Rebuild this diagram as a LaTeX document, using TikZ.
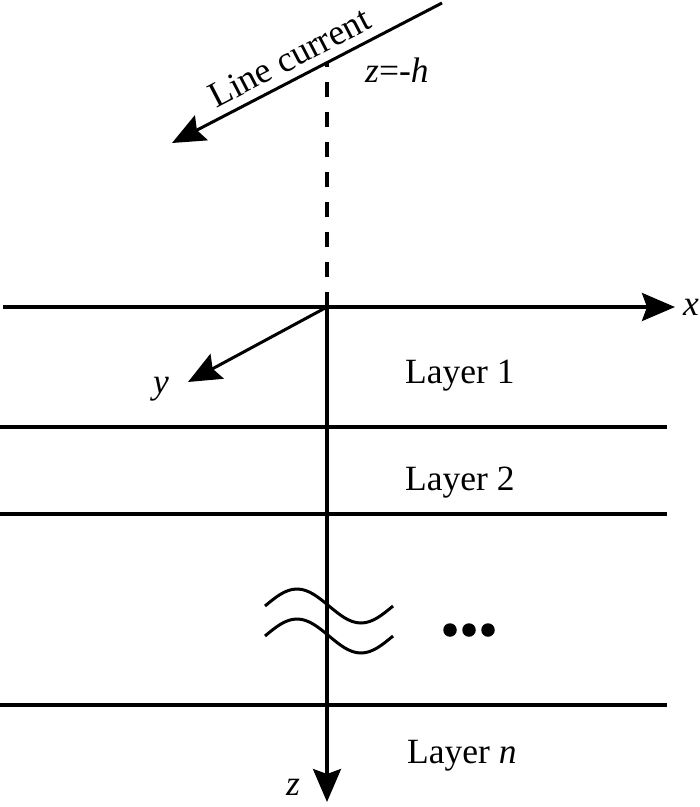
\documentclass[tikz,border=0pt]{standalone}
\usepackage{fontspec}
\setmainfont{Liberation Serif}
\usetikzlibrary{arrows.meta}
\tikzset{
  axisline/.style={line width=3.2pt},
  bigtip/.style={-{Stealth[length=33pt,width=28pt,inset=5pt]}},
  lbl/.style={inner sep=0pt, anchor=base west, font=\fontsize{35.5}{42}\selectfont},
  wave/.style={line width=3pt},
  dot/.style={circle, fill=black, inner sep=0pt, minimum size=13.5pt}
}
\begin{document}
\begin{tikzpicture}[x=1pt,y=-1pt]
\useasboundingbox (0,0) rectangle (700,807);
% coordinates
\coordinate (O) at (327,307);
\coordinate (xs) at (3,307);
\coordinate (xe) at (675,307);
\coordinate (ze) at (327,802);
\coordinate (ye) at (188,382);
\coordinate (lc1) at (442,3);
\coordinate (lc2) at (172,143);
\coordinate (lcp) at (327,62.6);
\coordinate (l1a) at (0,427);  \coordinate (l1b) at (667,427);
\coordinate (l2a) at (0,514);  \coordinate (l2b) at (667,514);
\coordinate (l3a) at (0,705);  \coordinate (l3b) at (667,705);
% layer lines
\draw[axisline] (l1a) -- (l1b);
\draw[axisline] (l2a) -- (l2b);
\draw[axisline] (l3a) -- (l3b);
% axes
\draw[axisline, bigtip] (xs) -- (xe);
\draw[axisline, bigtip] (O) -- (ze);
\draw[line width=3pt, bigtip] (O) -- (ye);
% dashed projection
\draw[line width=3.4pt, dash pattern=on 15pt off 15pt] (O) -- (lcp);
% line current
\draw[line width=3pt, bigtip] (lc1) -- (lc2);
\node[inner sep=0pt, anchor=base, rotate=27.4, font=\fontsize{36}{42}\selectfont] (lct) at (295,68) {Line current};
\node[lbl] (zh) at (365,82) {\textit{z}=-\textit{h}};
% axis labels
\node[lbl] (xl) at (683,315) {\textit{x}};
\node[lbl] (yl) at (153,393) {\textit{y}};
\node[lbl] (zl) at (286,795) {\textit{z}};
% layer labels
\node[lbl] (L1) at (405,383) {Layer 1};
\node[lbl] (L2) at (405,490) {Layer 2};
\node[lbl] (Ln) at (407,763) {Layer \textit{n}};
% break symbol
\draw[wave] (265,606) sin (297,589) cos (329,606) sin (361,623) cos (393,606);
\draw[wave] (265,636) sin (297,619) cos (329,636) sin (361,653) cos (393,636);
% dots
\node[dot] (d1) at (450,630) {};
\node[dot] (d2) at (469,630) {};
\node[dot] (d3) at (488,630) {};
\end{tikzpicture}
\end{document}
